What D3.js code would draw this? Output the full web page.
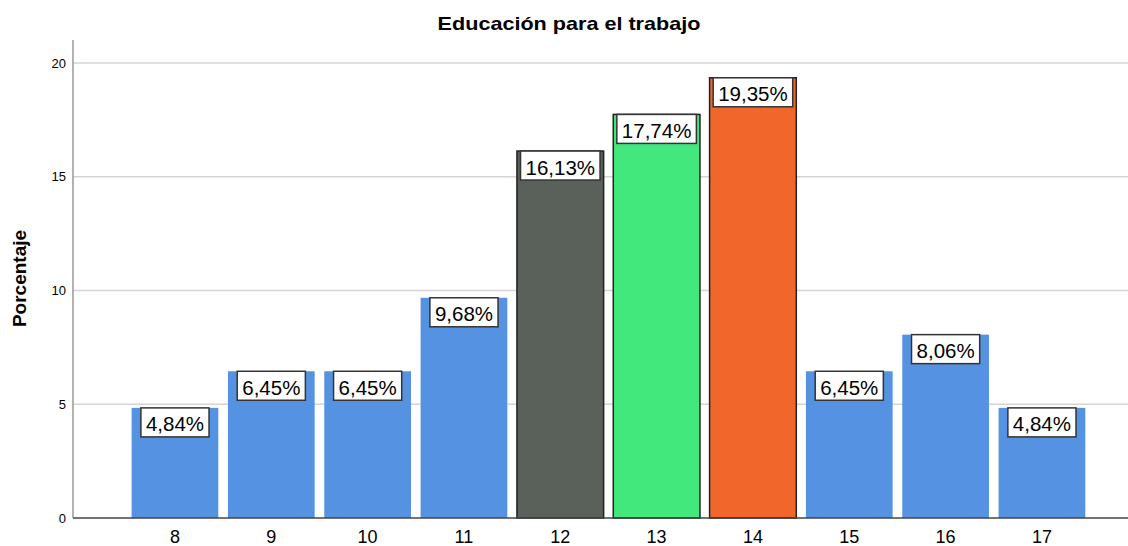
<meta charset="utf-8">
<script src="https://d3js.org/d3.v7.min.js"></script>
<style>
  body { margin: 0; background: #fff; }
  text { font-family: "Liberation Sans", Arial, sans-serif; fill: #000; }
  .grid line { stroke: #d4d4d4; stroke-width: 1.5px; }
  .lbl rect { fill: #fff; stroke: #333; stroke-width: 1.5px; }
</style>
<body>
<script>
  var categories = ['8', '9', '10', '11', '12', '13', '14', '15', '16', '17'];
  var values = [4.84, 6.45, 6.45, 9.68, 16.13, 17.74, 19.35, 6.45, 8.06, 4.84];
  var yTicks = [0, 5, 10, 15, 20];
  var colors = ['#5593e2', '#5593e2', '#5593e2', '#5593e2', '#59615a', '#43e87d', '#f1672b', '#5593e2', '#5593e2', '#5593e2'];
  var outlined = [false, false, false, false, true, true, true, false, false, false];

  var W = 1128, H = 546;
  var svg = d3.select('body').append('svg')
    .attr('width', W)
    .attr('height', H);

  var x = d3.scaleBand()
    .domain(categories)
    .range([126.8, 1090.1])
    .paddingInner(0.1)
    .paddingOuter(0.05);

  var y = d3.scaleLinear()
    .domain([0, 20])
    .range([518, 63]);

  // grid
  svg.append('g').attr('class', 'grid')
    .selectAll('line').data(yTicks.slice(1))
    .enter().append('line')
    .attr('x1', 73).attr('x2', W)
    .attr('y1', function(d){ return y(d); })
    .attr('y2', function(d){ return y(d); });

  // y axis
  var yAxis = svg.append('g')
    .attr('transform', 'translate(73,0)')
    .call(d3.axisLeft(y).tickValues(yTicks).tickSize(0).tickPadding(7));
  yAxis.select('.domain').remove();
  yAxis.selectAll('text').style('font-size', '13px').attr('fill', '#111');
  svg.append('line')
    .attr('x1', 73).attr('x2', 73).attr('y1', 40).attr('y2', 518)
    .attr('stroke', '#999').attr('stroke-width', 1.5);

  // bars
  svg.append('g').selectAll('rect').data(values)
    .enter().append('rect')
    .attr('x', function(d, i){ return x(categories[i]); })
    .attr('width', x.bandwidth())
    .attr('y', function(d){ return y(d); })
    .attr('height', function(d){ return y(0) - y(d); })
    .attr('fill', function(d, i){ return colors[i]; })
    .attr('stroke', function(d, i){ return outlined[i] ? '#222' : 'none'; })
    .attr('stroke-width', 1.5);

  // x axis
  var xAxis = svg.append('g')
    .attr('transform', 'translate(0,518)')
    .call(d3.axisBottom(x).tickSize(0).tickPadding(12));
  xAxis.select('.domain').remove();
  xAxis.selectAll('text').style('font-size', '18px').attr('fill', '#222');
  svg.append('line')
    .attr('x1', 73).attr('x2', W).attr('y1', 518).attr('y2', 518)
    .attr('stroke', '#444').attr('stroke-width', 1.5);

  // value labels
  var lbl = svg.append('g').selectAll('g.lbl').data(values)
    .enter().append('g')
    .attr('class', 'lbl')
    .attr('transform', function(d, i){
      return 'translate(' + (x(categories[i]) + x.bandwidth() / 2) + ',' + y(d) + ')';
    });
  var boxes = lbl.append('rect')
    .attr('y', 0).attr('height', 29);
  lbl.append('text')
    .attr('text-anchor', 'middle')
    .attr('y', 23.5)
    .style('font-size', '20.5px')
    .attr('fill', '#222')
    .text(function(d){ return d.toFixed(2).replace('.', ',') + '%'; });
  lbl.each(function(){
    var g = d3.select(this);
    var w = g.select('text').node().getComputedTextLength() + 10;
    g.select('rect').attr('x', -w / 2).attr('width', w);
  });

  // title
  svg.append('text')
    .attr('transform', 'translate(569,29.5) scale(1.2,1)')
    .attr('text-anchor', 'middle')
    .style('font-size', '18px')
    .style('font-weight', 'bold')
    .text('Educación para el trabajo');

  svg.append('text')
    .attr('transform', 'translate(26,278.5) rotate(-90)')
    .attr('text-anchor', 'middle')
    .style('font-size', '19px')
    .style('font-weight', 'bold')
    .text('Porcentaje');
</script>
</body>
